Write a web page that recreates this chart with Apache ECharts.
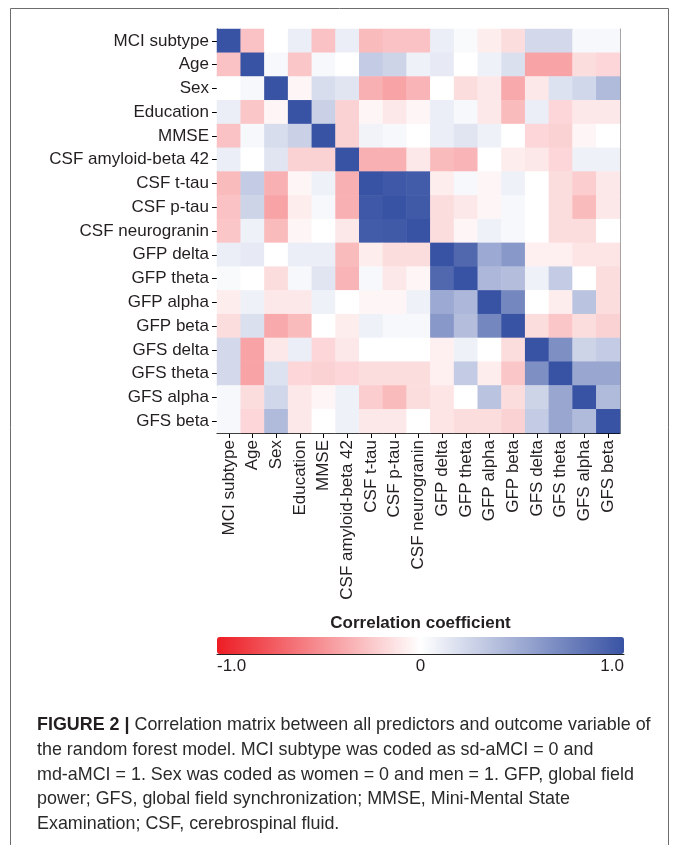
<!DOCTYPE html>
<html>
<head>
<meta charset="utf-8">
<script src="https://cdn.jsdelivr.net/npm/echarts@6/dist/echarts.min.js"></script>
<style>
html,body{margin:0;padding:0;background:#fff;}
#chart{width:673px;height:845px;}
</style>
</head>
<body>
<div id="chart"></div>
<script>
var variables = ['MCI subtype','Age','Sex','Education','MMSE','CSF amyloid-beta 42','CSF t-tau','CSF p-tau','CSF neurogranin','GFP delta','GFP theta','GFP alpha','GFP beta','GFS delta','GFS theta','GFS alpha','GFS beta'];

var rowMCI      = [1, -0.27, 0, 0.1, -0.27, 0.1, -0.3, -0.27, -0.27, 0.1, 0.03, -0.08, -0.15, 0.22, 0.22, 0.04, 0.04];
var rowAge      = [-0.27, 1, 0.04, -0.25, 0.04, 0, 0.3, 0.25, 0.08, 0.12, 0, 0.08, 0.18, -0.4, -0.4, -0.15, -0.18];
var rowSex      = [0, 0.04, 1, -0.04, 0.2, 0.15, -0.35, -0.4, -0.33, 0, -0.15, -0.1, -0.38, -0.1, 0.17, 0.23, 0.4];
var rowEdu      = [0.1, -0.25, -0.04, 1, 0.27, -0.2, -0.04, -0.1, -0.04, 0.1, 0.04, -0.1, -0.3, 0.1, -0.18, -0.1, -0.1];
var rowMMSE     = [-0.27, 0.04, 0.2, 0.27, 1, -0.2, 0.07, 0.04, 0, 0.1, 0.15, 0.08, 0, -0.18, -0.2, -0.04, 0];
var rowAb42     = [0.1, 0, 0.15, -0.2, -0.2, 1, -0.35, -0.35, -0.1, -0.3, -0.33, 0, -0.08, -0.1, -0.18, 0.08, 0.08];
var rowTtau     = [-0.3, 0.3, -0.35, -0.04, 0.08, -0.35, 1, 0.97, 0.95, -0.08, 0.04, -0.04, 0.08, 0, -0.15, -0.22, -0.1];
var rowPtau     = [-0.27, 0.25, -0.4, -0.08, 0.04, -0.35, 0.97, 1, 0.96, -0.15, -0.1, -0.04, 0.04, 0, -0.15, -0.3, -0.1];
var rowNgrn     = [-0.25, 0.08, -0.3, -0.04, 0, -0.1, 0.95, 0.96, 1, -0.15, -0.04, 0.08, 0.04, 0, -0.15, -0.15, 0];
var rowGFPdelta = [0.1, 0.12, 0, 0.1, 0.1, -0.3, -0.08, -0.15, -0.15, 1, 0.88, 0.5, 0.6, -0.07, -0.07, -0.12, -0.12];
var rowGFPtheta = [0.03, 0, -0.15, 0.04, 0.15, -0.33, 0.04, -0.1, -0.04, 0.88, 1, 0.42, 0.38, 0.08, 0.3, 0, -0.15];
var rowGFPalpha = [-0.08, 0.08, -0.1, -0.1, 0.08, 0, -0.04, -0.04, 0.08, 0.5, 0.42, 1, 0.7, 0, -0.08, 0.35, -0.15];
var rowGFPbeta  = [-0.15, 0.18, -0.38, -0.3, 0, -0.08, 0.08, 0.04, 0.04, 0.6, 0.38, 0.7, 1, -0.15, -0.25, -0.15, -0.2];
var rowGFSdelta = [0.22, -0.4, -0.1, 0.1, -0.18, -0.1, 0, 0, 0, -0.07, 0.08, 0, -0.15, 1, 0.65, 0.25, 0.3];
var rowGFStheta = [0.22, -0.4, 0.17, -0.18, -0.2, -0.18, -0.15, -0.15, -0.15, -0.07, 0.3, -0.08, -0.25, 0.65, 1, 0.52, 0.52];
var rowGFSalpha = [0.04, -0.15, 0.23, -0.1, -0.04, 0.08, -0.22, -0.3, -0.15, -0.12, 0, 0.35, -0.15, 0.25, 0.52, 1, 0.4];
var rowGFSbeta  = [0.04, -0.18, 0.4, -0.1, 0, 0.08, -0.1, -0.1, 0, -0.12, -0.15, -0.15, -0.2, 0.3, 0.52, 0.4, 1];

var colorbarTicks = [-1, 0, 1];

var matrix = [rowMCI,rowAge,rowSex,rowEdu,rowMMSE,rowAb42,rowTtau,rowPtau,rowNgrn,rowGFPdelta,rowGFPtheta,rowGFPalpha,rowGFPbeta,rowGFSdelta,rowGFStheta,rowGFSalpha,rowGFSbeta];
var data = [];
for (var r = 0; r < matrix.length; r++) {
  for (var c = 0; c < matrix[r].length; c++) {
    data.push([c, r, matrix[r][c]]);
  }
}

var FONT = '"Liberation Sans", Arial, Helvetica, sans-serif';
var TXT = '#231f20';

var chart = echarts.init(document.getElementById('chart'), null, {renderer: 'canvas'});
chart.setOption({
  backgroundColor: '#fff',
  animation: false,
  textStyle: {fontFamily: FONT},
  grid: [
    {left: 217, top: 29, width: 403, height: 404, show: false},
    {left: 217, top: 637, width: 407, height: 17, show: false}
  ],
  xAxis: [
    {
      type: 'category', data: variables, gridIndex: 0, position: 'bottom',
      axisLine: {show: true, lineStyle: {color: '#000', width: 1}},
      axisTick: {show: true, alignWithLabel: true, length: 5, lineStyle: {color: '#000'}},
      axisLabel: {rotate: 90, fontSize: 17, color: TXT, margin: 7, fontFamily: FONT},
      splitLine: {show: false}
    },
    {
      type: 'category', data: variables, gridIndex: 0, position: 'top',
      axisLine: {show: true, onZero: false, lineStyle: {color: '#8a8a8a', width: 1}},
      axisTick: {show: false}, axisLabel: {show: false}, splitLine: {show: false}
    },
    {
      type: 'value', gridIndex: 1, min: -1, max: 1, interval: 1, position: 'bottom',
      axisLine: {show: true, onZero: false, lineStyle: {color: '#222', width: 1}},
      axisTick: {show: false}, splitLine: {show: false},
      axisLabel: {
        fontSize: 17, color: TXT, margin: 4, fontFamily: FONT,
        alignMinLabel: 'left', alignMaxLabel: 'right',
        formatter: function (v) { return v === 0 ? '0' : v.toFixed(1); }
      },
      data: colorbarTicks
    }
  ],
  yAxis: [
    {
      type: 'category', data: variables, inverse: true, gridIndex: 0, position: 'left',
      axisLine: {show: true, lineStyle: {color: '#000', width: 1}},
      axisTick: {show: true, alignWithLabel: true, length: 5, lineStyle: {color: '#000'}},
      axisLabel: {fontSize: 17, color: TXT, margin: 8, fontFamily: FONT},
      splitLine: {show: false}
    },
    {
      type: 'category', data: variables, inverse: true, gridIndex: 0, position: 'right',
      axisLine: {show: true, onZero: false, lineStyle: {color: '#8a8a8a', width: 1}},
      axisTick: {show: false}, axisLabel: {show: false}, splitLine: {show: false}
    },
    {type: 'value', gridIndex: 1, min: 0, max: 1, show: false}
  ],
  visualMap: {
    type: 'continuous',
    seriesIndex: 0,
    min: -1, max: 1,
    orient: 'horizontal',
    left: 217, top: 637,
    itemWidth: 17, itemHeight: 407,
    padding: 0,
    calculable: false,
    hoverLink: false,
    text: null,
    showLabel: false,
    inRange: {color: ['#ED1C24', '#FFFFFF', '#3953A4']}
  },
  series: [
    {
      type: 'heatmap', xAxisIndex: 0, yAxisIndex: 0, data: data,
      itemStyle: {borderWidth: 0},
      emphasis: {disabled: true},
      z: 1
    },
    {type: 'scatter', xAxisIndex: 2, yAxisIndex: 2, data: []}
  ],
  graphic: [
    {
      type: 'rect', z: -1,
      shape: {x: 10.5, y: 8.5, width: 658, height: 900},
      style: {fill: 'none', stroke: '#6d6d6d', lineWidth: 1}
    },
    {
      type: 'text', x: 420.5, y: 623,
      style: {text: 'Correlation coefficient', font: 'bold 17px ' + FONT, fill: '#231f20', align: 'center', verticalAlign: 'middle'}
    },
    {
      type: 'text', x: 37, y: 712.6,
      style: {
        text: '{b|FIGURE 2 |} Correlation matrix between all predictors and outcome variable of\nthe random forest model. MCI subtype was coded as sd-aMCI = 0 and\nmd-aMCI = 1. Sex was coded as women = 0 and men = 1. GFP, global field\npower; GFS, global field synchronization; MMSE, Mini-Mental State\nExamination; CSF, cerebrospinal fluid.',
        font: '17.9px ' + FONT,
        fill: '#2a2a2a',
        lineHeight: 24.8,
        rich: {b: {fontWeight: 'bold', fontSize: 17.9, fontFamily: FONT, fill: '#231f20', lineHeight: 24.8}}
      }
    }
  ]
});
</script>
</body>
</html>
